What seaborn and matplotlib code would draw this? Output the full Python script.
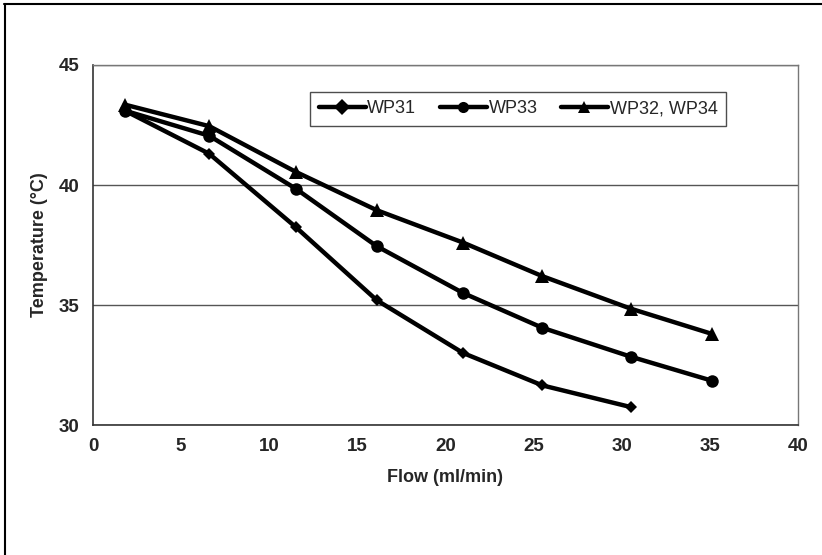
import pandas as pd
import seaborn as sns
import matplotlib.pyplot as plt
from matplotlib.lines import Line2D

# flow readings (ml/min) and outlet temperatures
flow = [1.8, 6.6, 11.5, 16.1, 21.0, 25.5, 30.5, 35.1]
wp31 = [43.1, 41.3, 38.25, 35.2, 33.0, 31.65, 30.75]
wp33 = [43.1, 42.05, 39.85, 37.45, 35.5, 34.05, 32.85, 31.85]
wp32_34 = [43.35, 42.45, 40.55, 38.95, 37.6, 36.2, 34.85, 33.8]

series_names = ['WP31', 'WP33', 'WP32, WP34']
x_ticks = [0, 5, 10, 15, 20, 25, 30, 35, 40]
y_ticks = [30, 35, 40, 45]

sns.set_style('white')
plt.rcParams['font.family'] = ['Liberation Sans', 'DejaVu Sans']

# long table for seaborn
frames = []
for name, temps in zip(series_names, [wp31, wp33, wp32_34]):
    frames.append(pd.DataFrame({'Flow': flow[:len(temps)], 'Temp': temps, 'Series': name}))
df = pd.concat(frames, ignore_index=True)

fig = plt.figure(figsize=(8.22, 5.55), dpi=100)
ax = fig.add_axes([0.1131, 0.2342, 0.8577, 0.6487])

sns.lineplot(data=df, x='Flow', y='Temp', hue='Series', style='Series',
             hue_order=series_names, style_order=series_names,
             palette=['black'] * 3,
             markers={'WP31': 'D', 'WP33': 'o', 'WP32, WP34': '^'},
             dashes=False, linewidth=3.2, markersize=8, markeredgewidth=0,
             sort=False, ax=ax)

# marker sizes differ a little per series
for line, ms in zip(ax.lines, [6.5, 9, 10]):
    line.set_markersize(ms)

ax.set_xlim(0, 40)
ax.set_ylim(30, 45)
ax.set_xticks(x_ticks)
ax.set_yticks(y_ticks)
ax.tick_params(axis='both', direction='inout', length=7, width=1, color='#444444',
               labelsize=13.5, pad=6)
for lab in ax.get_xticklabels() + ax.get_yticklabels():
    lab.set_fontweight('bold')

ax.yaxis.grid(True, color='#555555', linewidth=1)
ax.xaxis.grid(False)
for side in ['left', 'bottom']:
    ax.spines[side].set_color('#333333')
    ax.spines[side].set_linewidth(1.2)
for side in ['top', 'right']:
    ax.spines[side].set_color('#777777')
    ax.spines[side].set_linewidth(1)

ax.set_xlabel('Flow (ml/min)', fontsize=13, fontweight='bold', labelpad=10)
ax.set_ylabel('Temperature (°C)', fontsize=13, fontweight='bold', labelpad=8)

handles, labels = ax.get_legend_handles_labels()
leg = ax.legend(handles=handles, labels=labels, ncol=3, loc='center',
                bbox_to_anchor=(0.603, 0.878), fontsize=13, frameon=True,
                fancybox=False, edgecolor='#222222', handlelength=2.6,
                handletextpad=0.1, columnspacing=1.3, borderpad=0.45)
leg.get_frame().set_linewidth(1)

# partial frame around the figure (top and left edges)
fig.add_artist(Line2D([0.005, 1.0], [0.993, 0.993], transform=fig.transFigure,
                      color='black', linewidth=1.5))
fig.add_artist(Line2D([0.006, 0.006], [0.0, 0.993], transform=fig.transFigure,
                      color='black', linewidth=1.5))

fig.savefig('out.png', dpi=100)
